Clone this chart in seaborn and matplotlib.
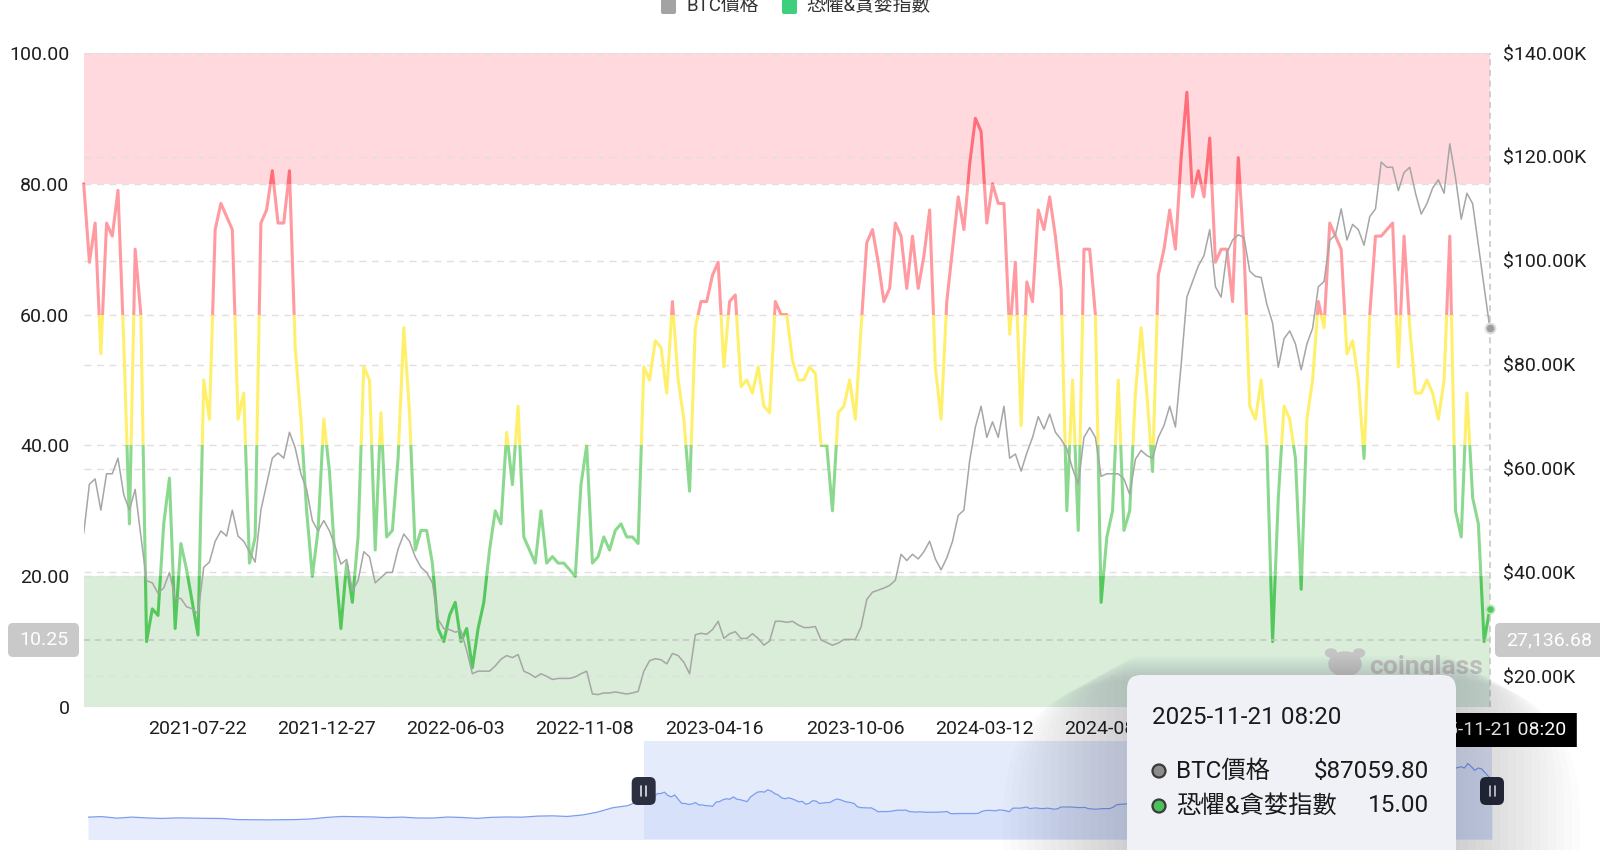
import numpy as np
import pandas as pd
import matplotlib
matplotlib.use("Agg")
import matplotlib.pyplot as plt
import matplotlib.dates as mdates
from matplotlib.patches import Rectangle, FancyBboxPatch, Circle, Ellipse
from matplotlib.lines import Line2D
from matplotlib.ticker import FuncFormatter
from matplotlib.transforms import IdentityTransform
import seaborn as sns

# ---------------- data ----------------
end_date = "2025-11-21"          # weekly samples ending on this day

fear_greed = [
    80, 68, 74, 54, 74, 72, 79, 56, 28, 70,
    60, 10, 15, 14, 28, 35, 12, 25, 21, 16,
    11, 50, 44, 73, 77, 75, 73, 44, 48, 22,
    26, 74, 76, 82, 74, 74, 82, 55, 44, 30,
    20, 27, 44, 36, 22, 12, 22, 16, 26, 52,
    50, 24, 45, 26, 27, 38, 58, 45, 24, 27,
    27, 22, 12, 10, 14, 16, 10, 12, 6, 12,
    16, 24, 30, 28, 42, 34, 46, 26, 24, 22,
    30, 22, 23, 22, 22, 21, 20, 34, 40, 22,
    23, 26, 24, 27, 28, 26, 26, 25, 52, 50,
    56, 55, 48, 62, 50, 44, 33, 58, 62, 62,
    66, 68, 52, 62, 63, 49, 50, 48, 52, 46,
    45, 62, 60, 60, 53, 50, 50, 52, 51, 40,
    40, 30, 45, 46, 50, 44, 58, 71, 73, 68,
    62, 64, 74, 72, 64, 72, 64, 69, 76, 52,
    44, 62, 70, 78, 73, 83, 90, 88, 74, 80,
    77, 77, 57, 68, 43, 65, 62, 76, 73, 78,
    72, 64, 30, 50, 27, 70, 70, 60, 16, 26,
    30, 50, 27, 30, 48, 58, 48, 36, 66, 70,
    76, 70, 84, 94, 78, 82, 78, 87, 68, 70,
    70, 62, 84, 70, 46, 44, 50, 40, 10, 32,
    46, 44, 38, 18, 44, 50, 62, 58, 74, 72,
    70, 54, 56, 50, 38, 60, 72, 72, 73, 74,
    52, 72, 58, 48, 48, 50, 48, 44, 50, 72,
    30, 26, 48, 32, 28, 10, 15,
]

btc_price_k = [
    47.5, 57, 58, 52, 59, 59, 62, 55, 52, 56,
    47, 38.4, 38, 36, 37, 40, 35, 35, 33.4, 33,
    32, 41, 42, 46, 48, 47, 52, 47, 46, 44,
    42, 52, 57, 62, 63, 62, 67, 64, 59, 56,
    50, 48, 50, 48, 45, 41.6, 42.5, 36.5, 38.4, 44,
    43, 38, 39, 40, 40, 44.5, 47.4, 46, 43, 41,
    40, 38, 31, 29.2, 29, 28.5, 28.8, 25, 20.5, 21,
    21, 21, 22, 23.3, 24, 23.6, 24.2, 21, 20.5, 19.8,
    20.5, 20, 19.4, 19.6, 19.6, 19.6, 19.9, 20.5, 21, 16.6,
    16.5, 16.8, 16.8, 17, 16.8, 16.6, 16.8, 17.1, 21, 23,
    23.4, 23.2, 22.4, 24.4, 24, 22.7, 20.5, 28, 28.3, 28.1,
    29, 30.6, 27.3, 28.2, 28.6, 27.3, 27.3, 28.2, 27.3, 26,
    26.8, 30.6, 30.6, 30.4, 30.6, 29.9, 29.4, 29.4, 29.6, 27,
    26.5, 26, 26.4, 27.1, 27.1, 27.1, 29.5, 34.8, 36.2, 36.6,
    37, 37.5, 38.5, 43.5, 42.3, 43.5, 42.6, 44, 46, 42.6,
    40.5, 42.8, 46, 51, 52, 61.5, 68, 72, 66, 69,
    66, 72, 62, 62.8, 59.5, 63, 66, 70, 67.6, 70.5,
    67, 65.6, 63.8, 60, 57, 66, 67.9, 66, 58.5, 59,
    59, 59, 58, 55, 61.8, 63.5, 62.5, 62, 66, 68.3,
    72, 68, 80, 93, 96, 99, 101, 106, 95, 93,
    101.5, 104, 105, 104.5, 98, 97, 96.8, 91.6, 88, 79.5,
    85, 86.5, 84, 79, 84, 87, 95, 96, 104, 105,
    110, 104, 107, 106, 103, 108.5, 110, 119, 118, 118,
    113.5, 117, 118, 113, 109, 111, 114, 115.6, 113, 122.5,
    116, 108, 113, 111, 103, 95, 87.0598,
]

# navigator: monthly BTC history before the zoom window (thousand USD)
nav_history_start = "2018-02-01"
btc_history_k = [9.2, 10.3, 7.0, 9.2, 7.5, 6.4, 7.6, 7.0, 6.6, 6.3, 4.0,
                 3.7, 3.4, 3.8, 4.1, 5.4, 8.6, 10.6, 10.1, 9.6, 8.3, 9.2, 7.4,
                 7.2, 9.4, 8.5, 6.6, 8.8, 9.5, 9.1, 11.3, 11.9, 10.6, 13.8, 19.7,
                 29.0, 33.5]

# visible x-axis labels (later ones are hidden under the tooltip in the reference)
x_tick_dates = ["2021-07-22", "2021-12-27", "2022-06-03", "2022-11-08",
                "2023-04-16", "2023-10-06", "2024-03-12", "2024-08-17"]
left_ticks = [0, 20, 40, 60, 80, 100]
right_ticks_k = [20, 40, 60, 80, 100, 120, 140]

series_names = ["BTC價格", "恐懼&貪婪指數"]
hover_fg = 10.25
hover_btc = 27136.68
tip_time = "2025-11-21 08:20"
tip_btc = 87059.80
tip_fg = 15.00

# ---------------- styling ----------------
sns.set_theme(style="white")
plt.rcParams["font.family"] = ["Roboto", "Noto Sans CJK TC", "DejaVu Sans"]

W, H = 1600, 850
fig = plt.figure(figsize=(W / 100, H / 100), dpi=100)
fig.patch.set_facecolor("white")
PX = IdentityTransform()


def fpx(x0, y0, x1, y1):
    """top-left pixel box -> figure-fraction rect"""
    return [x0 / W, 1 - y1 / H, (x1 - x0) / W, (y1 - y0) / H]


def rbox(x, y, w, h, r, **kw):
    p = FancyBboxPatch((x, y), w, h, boxstyle=f"round,pad=0,rounding_size={r}",
                       transform=PX, **kw)
    fig.add_artist(p)
    return p


ax = fig.add_axes(fpx(83.7, 53, 1489.8, 707))
nav = fig.add_axes(fpx(88, 741, 1492, 839))

dates = pd.date_range(end=end_date, periods=len(fear_greed), freq="7D")
df = pd.DataFrame({"date": dates, "fg": fear_greed,
                   "btc": np.asarray(btc_price_k) * 1000})

# zones
ax.axhspan(80, 100, fc="#ffd9dd", lw=0, zorder=0)
ax.axhspan(0, 20, fc="#d9edd9", lw=0, zorder=0)

ax.set_xlim(dates[0], dates[-1])
ax.set_ylim(0, 100)

# fear & greed line, coloured by value range
x0n = mdates.date2num(dates[0]) - 60
x1n = mdates.date2num(dates[-1]) + 60
fg_pieces = [(-10, 20, "#55c85d"), (20, 40, "#8bd98f"), (40, 60, "#fff06b"),
             (60, 80, "#ff9aa0"), (80, 110, "#ff6e79")]
for lo, hi, col in fg_pieces:
    sns.lineplot(data=df, x="date", y="fg", ax=ax, color=col, lw=2.2,
                 estimator=None, legend=False, zorder=2)
    ln = ax.lines[-1]
    ln.set_solid_joinstyle("round")
    ln.set_clip_path(Rectangle((x0n, lo), x1n - x0n, hi - lo, transform=ax.transData))

# BTC price on right axis
ax2 = ax.twinx()
sns.lineplot(data=df, x="date", y="btc", ax=ax2, color="#a6a6a6", lw=1.1,
             estimator=None, legend=False, zorder=3)
ax2.set_ylim(14100, 140000)
ax2.set_xlim(dates[0], dates[-1])

# grid lines (left ticks + right ticks, all drawn beneath the lines)
grid_kw = dict(color="#e0e0e0", lw=1, ls=(0, (5, 4)), zorder=0.6)
for v in left_ticks:
    ax.axhline(v, **grid_kw)
for v in right_ticks_k:
    ydisp = ax2.transData.transform((0, v * 1000))[1]
    yleft = ax.transData.inverted().transform((0, ydisp))[1]
    ax.axhline(yleft, **grid_kw)

# ticks
ax.set_yticks(left_ticks)
ax.yaxis.set_major_formatter(FuncFormatter(lambda v, p: "0" if v == 0 else f"{v:.2f}"))
ax2.set_yticks([v * 1000 for v in right_ticks_k])
ax2.yaxis.set_major_formatter(FuncFormatter(lambda v, p: f"${v / 1000:.2f}K"))
ax.set_xticks(pd.to_datetime(x_tick_dates))
ax.set_xticklabels(x_tick_dates)
ax.tick_params(axis="both", length=0, labelsize=14, labelcolor="#1e1e1e")
ax.tick_params(axis="y", pad=10.3)
ax.tick_params(axis="x", pad=9)
ax2.tick_params(axis="y", length=0, labelsize=14, pad=9.5, labelcolor="#1e1e1e")
for a in (ax, ax2):
    a.set_xlabel("")
    a.set_ylabel("")
    for s in a.spines.values():
        s.set_visible(False)

# crosshair
cross_kw = dict(color="#c4c4c4", lw=1.1, ls=(0, (4, 3)), zorder=4)
ax.axhline(hover_fg, **cross_kw)
ax.axvline(dates[-1], clip_on=False, **cross_kw)

# end markers
ax2.plot([dates[-1]], [df["btc"].iloc[-1]], marker="o", ms=7, mfc="#9d9d9d",
         mec="#dcdcdc", mew=1.5, zorder=6, clip_on=False)
ax.plot([dates[-1]], [fear_greed[-1]], marker="o", ms=6, mfc="#55c85d",
        mec="#bfe8c2", mew=1.2, zorder=6, clip_on=False)

# watermark
fig.add_artist(Ellipse((1345, H - 664), 32, 24, transform=PX, color="#c4c4c4", zorder=2))
fig.add_artist(Ellipse((1331, H - 653), 11, 8, transform=PX, color="#c4c4c4", zorder=2))
fig.add_artist(Ellipse((1359, H - 653), 11, 8, transform=PX, color="#c4c4c4", zorder=2))
fig.text(1369, H - 667, "coinglass", transform=PX, fontsize=19, fontweight="bold",
         color="#bdbdbd", va="center", ha="left", zorder=2)

# ---------------- navigator ----------------
nav_dates = list(pd.date_range(nav_history_start, periods=len(btc_history_k), freq="MS")) + list(dates)
nav_df = pd.DataFrame({"date": nav_dates, "btc": btc_history_k + btc_price_k})
nav.fill_between(nav_df["date"], nav_df["btc"], -40, color="#e6ecfb", lw=0)
sns.lineplot(data=nav_df, x="date", y="btc", ax=nav, color="#7b9cf0", lw=0.9,
             estimator=None, legend=False)
nav.axvspan(dates[0], dates[-1], color="#c5d4f7", alpha=0.45, lw=0)
nav.set_ylim(-37, 170)
nav.set_xlim(nav_dates[0], nav_dates[-1])
nav.axis("off")

yc = H - 791
for d in (dates[0], dates[-1]):
    hx = nav.transData.transform((mdates.date2num(d), 0))[0]
    rbox(hx - 12, yc - 14, 24, 28, 6, color="#2c2f3f", lw=0, zorder=3)
    for dx in (-2.5, 2.5):
        fig.add_artist(Line2D([hx + dx, hx + dx], [yc - 5, yc + 5], transform=PX,
                              color="#dfe2ea", lw=1.2, zorder=3.1))

# ---------------- crosshair labels ----------------
x_end, y_hov = ax.transData.transform((mdates.date2num(dates[-1]), hover_fg))
rbox(8, y_hov - 17, 71, 34, 5, color="#c9c9c9", lw=0, zorder=3)
fig.text(43.5, y_hov, f"{hover_fg:.2f}", transform=PX, color="white", fontsize=14,
         ha="center", va="center", zorder=3.1)
rbox(1495, y_hov - 17, 120, 34, 5, color="#c9c9c9", lw=0, zorder=3)
fig.text(1506, y_hov, f"{hover_btc:,.2f}", transform=PX, color="white", fontsize=14,
         ha="left", va="center", zorder=3.1)
rbox(x_end - 87, H - 747, 174, 34, 0, color="black", lw=0, zorder=3)
fig.text(x_end, H - 730, tip_time, transform=PX, color="white", fontsize=14,
         ha="center", va="center", zorder=3.1)

# ---------------- legend (top, partly cut) ----------------
rbox(661, H - 14, 15, 17, 2, color="#a3a3a3", lw=0, zorder=3)
fig.text(686, H - 6, series_names[0], transform=PX, fontsize=13.5, color="#333333",
         ha="left", va="center", zorder=3)
rbox(782, H - 14, 15, 17, 2, color="#3ecf7d", lw=0, zorder=3)
fig.text(806, H - 6, series_names[1], transform=PX, fontsize=13.5, color="#333333",
         ha="left", va="center", zorder=3)

# ---------------- tooltip ----------------
tx0, tx1, ttop = 1127, 1456, 675
for i in range(16):
    s = 4 + i * 8
    rbox(tx0 - s, -60 - s, (tx1 - tx0) + 2 * s, (H - ttop) + 60 + s * 0.8 + 20,
         14 + s, color="#1a1f33", alpha=0.011, lw=0, zorder=5)
rbox(tx0, -40, tx1 - tx0, H - ttop + 40, 14, color="#f0f1f6", lw=0, zorder=6)
fig.text(1152, H - 717, tip_time, transform=PX, fontsize=17.5, color="#1a1a1a",
         ha="left", va="center", zorder=7)
rows = [(H - 771, "#8c8c8c", series_names[0], f"${tip_btc:.2f}"),
        (H - 806, "#4cc05a", series_names[1], f"{tip_fg:.2f}")]
for yy, col, name, val in rows:
    fig.add_artist(Circle((1159, yy), 6.5, transform=PX, fc=col, ec="#3a3a3a",
                          lw=1.6, zorder=7))
    fig.text(1176, yy, name, transform=PX, fontsize=17.5, color="#1a1a1a",
             ha="left", va="center", zorder=7)
    fig.text(1429, yy, val, transform=PX, fontsize=17.5, color="#1a1a1a",
             ha="right", va="center", zorder=7)

fig.savefig("out.png", dpi=100)
